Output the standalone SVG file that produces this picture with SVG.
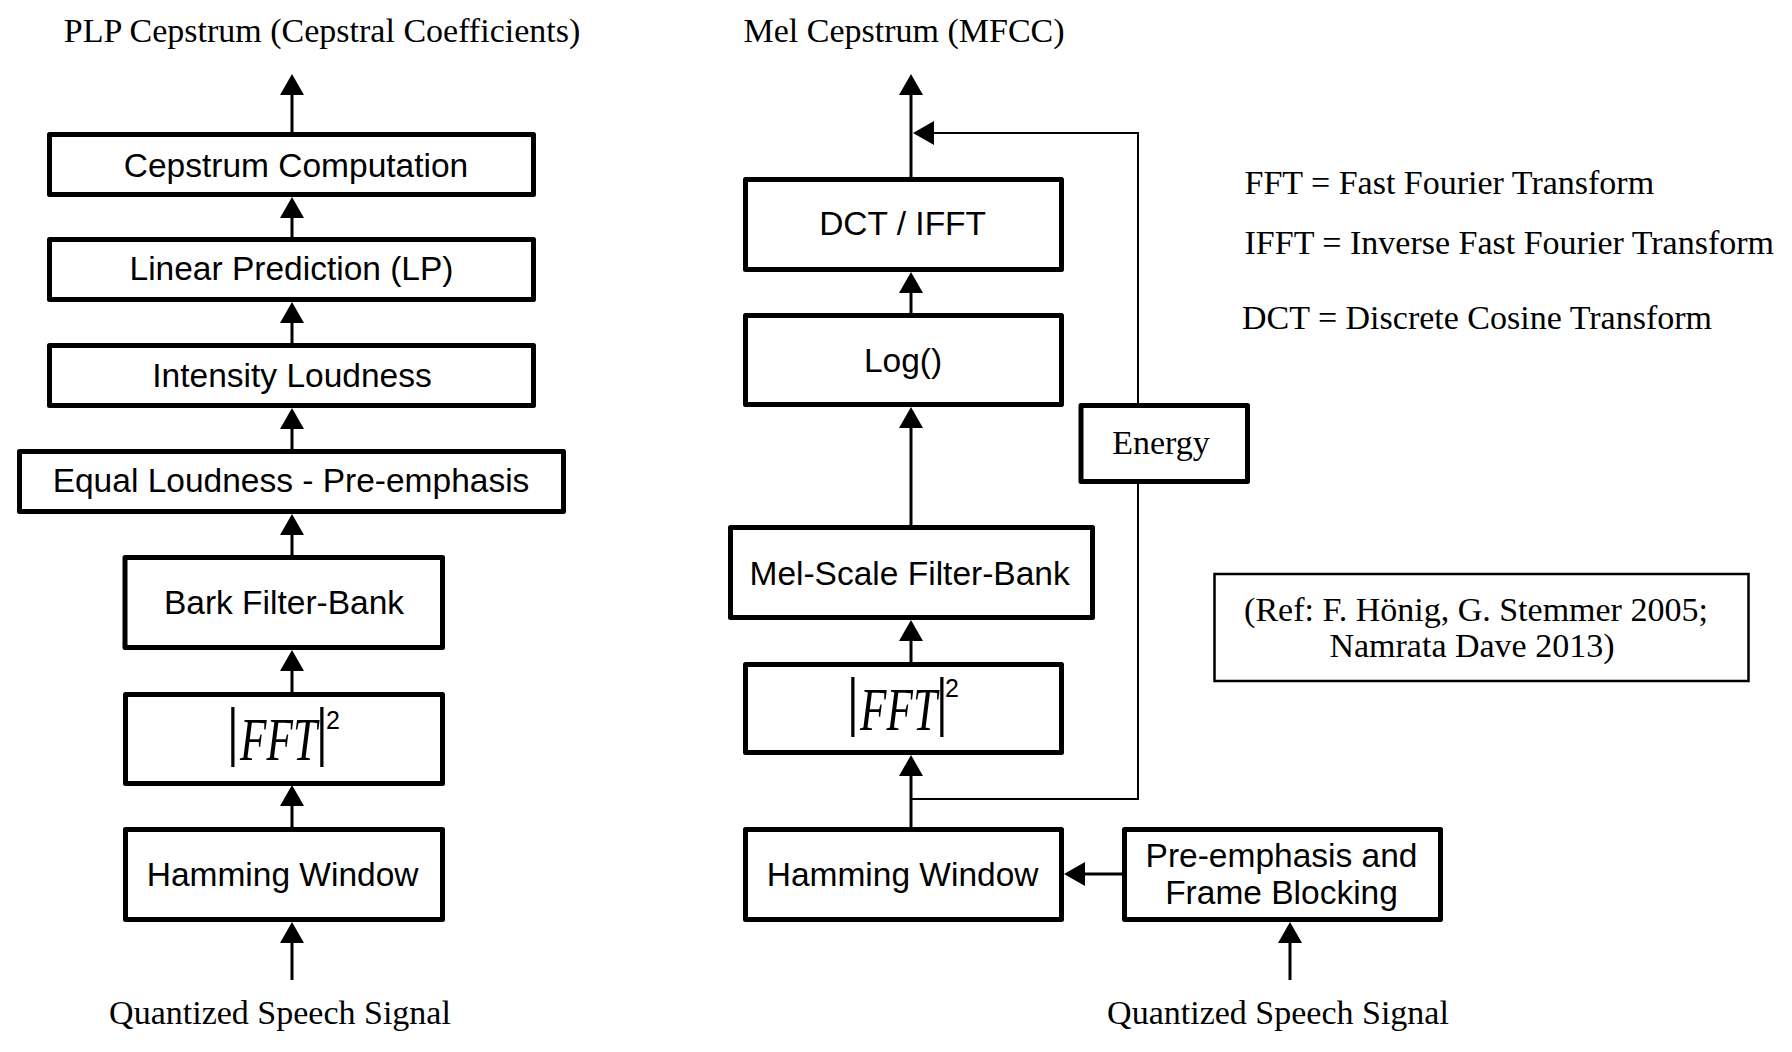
<svg xmlns="http://www.w3.org/2000/svg" width="1792" height="1052" viewBox="0 0 1792 1052">
<style>
.box{fill:#fff;stroke:#000;stroke-width:5;stroke-linejoin:round}
.thin{fill:#fff;stroke:#000;stroke-width:2.5}
.sans{font-family:"Liberation Sans",Arial,sans-serif;font-size:33.5px;text-anchor:middle;fill:#000}
.serif{font-family:"Liberation Serif","Times New Roman",serif;font-size:34px;fill:#000}
.mid{text-anchor:middle}
.math{font-family:"Liberation Serif","Times New Roman",serif;fill:#000}
.bar{font-size:66px}
.fft{font-style:italic;font-size:62px}
.sup{font-family:"Liberation Sans",Arial,sans-serif;font-size:25px}
.conn{stroke:#000;stroke-width:3;fill:none}
.fb{stroke:#000;stroke-width:2;fill:none}
</style>
<defs>
<marker id="ah" markerUnits="userSpaceOnUse" markerWidth="22" markerHeight="26" viewBox="0 0 22 26" refX="1" refY="12" orient="auto">
<path d="M0,0 L21,12 L0,24 z" fill="#000"/>
</marker>
</defs>
<rect width="1792" height="1052" fill="#fff"/>

<g id="labels">
<text class="serif mid" x="322" y="42">PLP Cepstrum (Cepstral Coefficients)</text>
<text class="serif mid" x="904" y="42">Mel Cepstrum (MFCC)</text>
<text class="serif mid" x="280" y="1024">Quantized Speech Signal</text>
<text class="serif mid" x="1278" y="1024">Quantized Speech Signal</text>
<text class="serif" x="1244.5" y="194">FFT = Fast Fourier Transform</text>
<text class="serif" x="1244.5" y="254">IFFT = Inverse Fast Fourier Transform</text>
<text class="serif" x="1242" y="329">DCT = Discrete Cosine Transform</text>
</g>

<g id="connectors">
<path class="conn" d="M292,132 V94" marker-end="url(#ah)"/>
<path class="conn" d="M292,237 V217" marker-end="url(#ah)"/>
<path class="conn" d="M292,343 V322" marker-end="url(#ah)"/>
<path class="conn" d="M292,449 V428" marker-end="url(#ah)"/>
<path class="conn" d="M292,555 V534" marker-end="url(#ah)"/>
<path class="conn" d="M292,692 V670" marker-end="url(#ah)"/>
<path class="conn" d="M292,827 V805" marker-end="url(#ah)"/>
<path class="conn" d="M292,980 V942" marker-end="url(#ah)"/>

<path class="conn" d="M911,177 V94" marker-end="url(#ah)"/>
<path class="conn" d="M911,313 V292" marker-end="url(#ah)"/>
<path class="conn" d="M911,525 V427" marker-end="url(#ah)"/>
<path class="conn" d="M911,662 V640" marker-end="url(#ah)"/>
<path class="conn" d="M911,827 V775" marker-end="url(#ah)"/>
<path class="conn" d="M1122,874 H1084" marker-end="url(#ah)"/>
<path class="conn" d="M1290,980 V942" marker-end="url(#ah)"/>
<path class="fb" d="M911,799 H1138 V133 H933" marker-end="url(#ah)"/>
</g>

<g id="plp-cepstrum">
<rect class="box" x="49.5" y="134.5" width="484" height="60"/>
<text class="sans" x="296" y="177">Cepstrum Computation</text>
</g>
<g id="plp-lp">
<rect class="box" x="49.5" y="239.5" width="484" height="60"/>
<text class="sans" x="291.5" y="280">Linear Prediction (LP)</text>
</g>
<g id="plp-intensity">
<rect class="box" x="49.5" y="345.5" width="484" height="60"/>
<text class="sans" x="292" y="387">Intensity Loudness</text>
</g>
<g id="plp-equal">
<rect class="box" x="19.5" y="451.5" width="544" height="60"/>
<text class="sans" x="291" y="492">Equal Loudness - Pre-emphasis</text>
</g>
<g id="plp-bark">
<rect class="box" x="125" y="557.5" width="317.5" height="90"/>
<text class="sans" x="284" y="614">Bark Filter-Bank</text>
</g>
<g id="plp-fft">
<rect class="box" x="125.5" y="694.5" width="317" height="89"/>
<text class="math"><tspan class="bar" x="226.3" y="753">|</tspan><tspan class="fft" x="240" y="760" textLength="77" lengthAdjust="spacingAndGlyphs">FFT</tspan><tspan class="bar" x="315.3" y="753">|</tspan><tspan class="sup" x="326" y="729">2</tspan></text>
</g>
<g id="plp-hamming">
<rect class="box" x="125.5" y="829.5" width="317" height="90"/>
<text class="sans" x="282.6" y="886">Hamming Window</text>
</g>

<g id="mfcc-dct">
<rect class="box" x="745.5" y="179.5" width="316" height="90"/>
<text class="sans" x="902.6" y="235">DCT / IFFT</text>
</g>
<g id="mfcc-log">
<rect class="box" x="745.5" y="315.5" width="316" height="89"/>
<text class="sans" x="903" y="372">Log()</text>
</g>
<g id="mfcc-energy">
<rect class="box" x="1081" y="405.5" width="166.5" height="76"/>
<text class="serif mid" x="1161" y="454">Energy</text>
</g>
<g id="mfcc-mel">
<rect class="box" x="730.5" y="527.5" width="362" height="90"/>
<text class="sans" x="909.6" y="585">Mel-Scale Filter-Bank</text>
</g>
<g id="mfcc-fft">
<rect class="box" x="745.5" y="664.5" width="316" height="88"/>
<text class="math"><tspan class="bar" x="846.3" y="723">|</tspan><tspan class="fft" x="860" y="730" textLength="77" lengthAdjust="spacingAndGlyphs">FFT</tspan><tspan class="bar" x="935.3" y="723">|</tspan><tspan class="sup" x="945" y="697">2</tspan></text>
</g>
<g id="mfcc-hamming">
<rect class="box" x="745.5" y="829.5" width="316" height="90"/>
<text class="sans" x="902.6" y="886">Hamming Window</text>
</g>
<g id="mfcc-preemph">
<rect class="box" x="1124.5" y="829.5" width="316" height="90"/>
<text class="sans" x="1281.5" y="867">Pre-emphasis and</text>
<text class="sans" x="1281.5" y="904">Frame Blocking</text>
</g>

<g id="reference">
<rect class="thin" x="1214.5" y="574" width="534" height="107"/>
<text class="serif mid" x="1476" y="621">(Ref: F. Hönig, G. Stemmer 2005;</text>
<text class="serif mid" x="1472" y="657">Namrata Dave 2013)</text>
</g>
</svg>
